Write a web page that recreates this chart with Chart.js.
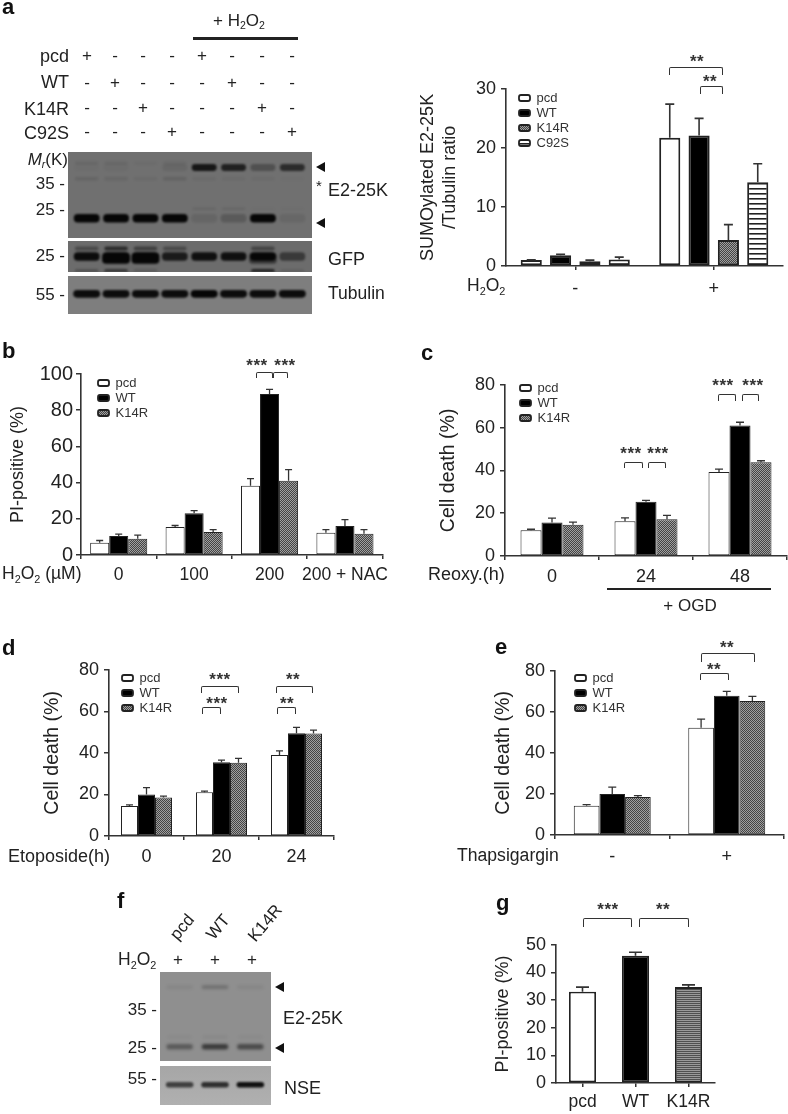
<!DOCTYPE html>
<html>
<head>
<meta charset="utf-8">
<script src="https://cdn.jsdelivr.net/npm/chart.js@4"></script>
<style>
  html, body { margin: 0; padding: 0; background: #fff; overflow: hidden; }
  #page { position: relative; width: 788px; height: 1114px; overflow: hidden; filter: blur(0.55px);
          font-family: "Liberation Sans", Arial, sans-serif; color: #222; }
  #page canvas { position: absolute; }
  .t { position: absolute; white-space: nowrap; line-height: 1; }
  .t sub { font-size: 0.62em; vertical-align: -0.3em; line-height: 0; }
  .blot { position: absolute; overflow: hidden; }
  .br { position: absolute; box-sizing: border-box; border: 1.3px solid #333; border-bottom: 0; border-radius: 2px 2px 0 0; }
  .rule { position: absolute; background: #222; }
  .tri { position: absolute; width: 0; height: 0; border-top: 5px solid transparent; border-bottom: 5px solid transparent; border-right: 9px solid #111; }
</style>
</head>
<body>
<div id="page"></div>
<script>
// panel a
const aGroups = ['-', '+'];
const aPcd = [1, 21.7], aPcdTop = [1.05, 27.4];
const aWt = [1.8, 22.1], aWtTop = [2.0, 25];
const aK14r = [0.8, 4.4], aK14rTop = [1.0, 7];
const aC92s = [1.1, 14.2], aC92sTop = [1.5, 17.3];
const aTicks = [0, 10, 20, 30];
// panel b
const bGroups = ['0', '100', '200', '200 + NAC'];
const bPcd = [6.7, 15.5, 38.3, 12.3], bPcdTop = [8, 16.3, 42.2, 14];
const bWt = [10.5, 23, 89, 16], bWtTop = [11.5, 24.5, 91.5, 19.5];
const bK14r = [9, 12.7, 41, 11.8], bK14rTop = [11, 14, 47.2, 14];
// panel c
const cGroups = ['0', '24', '48'];
const cPcd = [12, 16.2, 39.3], cPcdTop = [12.5, 17.8, 40.6];
const cWt = [15.7, 25.3, 61], cWtTop = [17.7, 26, 62.5];
const cK14r = [14.6, 17.2, 43.8], cK14rTop = [15.8, 19, 44.5];
// panel d
const dGroups = ['0', '20', '24'];
const dPcd = [14.5, 21, 39], dPcdTop = [15, 21.6, 41];
const dWt = [20, 35.5, 49.5], dWtTop = [23.3, 36.5, 52.3];
const dK14r = [18.5, 35.3, 49.3], dK14rTop = [19.2, 37.4, 51];
// panel e
const eGroups = ['-', '+'];
const ePcd = [14.3, 52.3], ePcdTop = [14.8, 56.5];
const eWt = [20, 67.8], eWtTop = [23.3, 70];
const eK14r = [18.5, 65.3], eK14rTop = [19.2, 67.5];
// panel g
const gGroups = ['pcd', 'WT', 'K14R'];
const gValues = [33, 46, 34.7], gTop = [34.7, 47.3, 35.5];
// blot band strengths per lane, 0 to 1
const aLanes = ['pcd', 'WT', 'K14R', 'C92S', 'pcd+', 'WT+', 'K14R+', 'C92S+'];
const aTopFaint = [0.07, 0.07, 0.03, 0.06, 0, 0, 0, 0];
const aUpper = [0.02, 0.03, 0, 0.08, 0.85, 0.75, 0.3, 0.65];
const aStar = [0.1, 0.09, 0.05, 0.12, 0.05, 0.04, 0.04, 0.02];
const a25Faint = [0, 0, 0, 0, 0.08, 0.08, 0.02, 0.02];
const aLower = [1, 1, 1, 1, 0.1, 0.2, 1, 0.08];
const gfpUpper = [0.35, 0.65, 0.45, 0.35, 0, 0, 0.4, 0];
const gfpMain = [0.95, 1, 1, 0.8, 0.9, 0.9, 1, 0.5];
const gfpThick = [0, 1, 1, 0, 0, 0, 0.5, 0];
const gfpLower = [0.25, 0.5, 0.15, 0, 0, 0, 0.7, 0.1];
const tubMain = [0.95, 0.95, 0.95, 0.95, 1, 0.95, 0.95, 0.95];
const fLanes = ['pcd', 'WT', 'K14R'];
const fUpper = [0.06, 0.22, 0.06];
const fFaint = [0.04, 0.06, 0.04];
const fLower = [0.38, 0.62, 0.5];
const nseMain = [0.65, 0.75, 0.95];
// + / - table above the first blot
const rowNames = ['pcd', 'WT', 'K14R', 'C92S'];
const rowSigns = ['+---+---', '-+---+--', '--+---+-', '---+---+'];

Chart.defaults.font.family = '"Liberation Sans", Arial, sans-serif';
Chart.defaults.color = '#222';
Chart.defaults.animation = false;
Chart.defaults.responsive = false;
Chart.defaults.events = [];

const page = document.getElementById('page');
const AXIS = '#333';

function pattern(size, paint) {
  const c = document.createElement('canvas');
  c.width = c.height = size;
  paint(c.getContext('2d'));
  return c.getContext('2d').createPattern(c, 'repeat');
}
const checker = pattern(2, x => {
  x.fillStyle = '#a0a0a0'; x.fillRect(0, 0, 2, 2);
  x.fillStyle = '#444'; x.fillRect(0, 0, 1, 1); x.fillRect(1, 1, 1, 1);
});
const stripes = pattern(5, x => {
  x.fillStyle = '#fff'; x.fillRect(0, 0, 5, 5);
  x.fillStyle = '#222'; x.fillRect(0, 0, 5, 1.6);
});
const fineLines = pattern(2, x => {
  x.fillStyle = '#9a9a9a'; x.fillRect(0, 0, 2, 2);
  x.fillStyle = '#505050'; x.fillRect(0, 0, 2, 1);
});

function newCanvas(box, parent) {
  const c = document.createElement('canvas');
  c.width = box.r - box.l;
  c.height = box.b - box.t;
  c.style.left = box.l + 'px';
  c.style.top = box.t + 'px';
  (parent || page).appendChild(c);
  return c;
}

// error bars go up from the bar top, through the chart's own scales
const whiskers = {
  id: 'whiskers',
  afterDatasetsDraw(chart, args, opts) {
    const ctx = chart.ctx, y = chart.scales.y;
    chart.data.datasets.forEach((ds, i) => {
      chart.getDatasetMeta(i).data.forEach((bar, j) => {
        const yTop = y.getPixelForValue(ds.tops[j]);
        ctx.save();
        ctx.strokeStyle = '#333';
        ctx.lineWidth = opts.width;
        ctx.beginPath();
        ctx.moveTo(bar.x, bar.y);
        ctx.lineTo(bar.x, yTop);
        ctx.moveTo(bar.x - opts.cap, yTop);
        ctx.lineTo(bar.x + opts.cap, yTop);
        ctx.stroke();
        ctx.restore();
      });
    });
  }
};

// puts the native legend where it sits in the figure
const legendSpot = {
  id: 'legendSpot',
  afterLayout(chart, args, opts) {
    if (!chart.legend || opts.x === undefined) return;
    chart.legend.left = opts.x - parseFloat(chart.canvas.style.left) - 2;
    chart.legend.right = chart.width;
    chart.legend.top = opts.y - parseFloat(chart.canvas.style.top) - 8.5;
  }
};

function barPanel(p) {
  const box = { l: p.canvasLeft, t: p.area.t - 14, r: Math.min(p.area.r + 8, 800), b: p.area.b + 36 };
  const canvas = newCanvas(box);
  const titleLine = p.titleSize * 1.25;
  new Chart(canvas, {
    type: 'bar',
    data: { labels: p.labels, datasets: p.datasets },
    plugins: [whiskers, legendSpot],
    options: {
      layout: { padding: { top: p.area.t - box.t, right: box.r - p.area.r, left: 0, bottom: 0 } },
      datasets: { bar: { categoryPercentage: p.catPct, barPercentage: p.barPct, borderWidth: p.border, borderColor: '#222', borderSkipped: false } },
      plugins: {
        whiskers: { width: p.whisker || 1.3, cap: p.cap },
        legendSpot: p.legend ? { x: p.legend.x, y: p.legend.y } : {},
        title: { display: false },
        tooltip: { enabled: false },
        legend: p.legend ? {
          display: true, position: 'chartArea', align: 'start', fullSize: false,
          labels: {
            boxWidth: 11, boxHeight: 6, padding: 2, useBorderRadius: true, borderRadius: 2,
            font: { size: 13 }, color: '#333',
            generateLabels(c) {
              const items = Chart.defaults.plugins.legend.labels.generateLabels(c);
              items.forEach(it => { it.lineWidth = 1.8; it.strokeStyle = '#222'; it.borderRadius = 2; });
              return items;
            }
          }
        } : { display: false }
      },
      scales: {
        x: {
          type: 'category', offset: true,
          afterFit(s) { s.height = box.b - p.area.b; },
          border: { color: AXIS, width: 1.6 },
          grid: { offset: p.tickBetween, drawOnChartArea: false, drawTicks: true, tickLength: 4, color: AXIS, lineWidth: 1.5 },
          ticks: { font: { size: p.xFont || 18 }, color: '#222', padding: p.xPad, maxRotation: 0, minRotation: 0, autoSkip: false }
        },
        y: {
          min: 0, max: p.max,
          afterFit(s) { s.width = p.area.l - box.l; },
          afterBuildTicks(s) { s.ticks = p.yTicks.map(v => ({ value: v })); },
          border: { color: AXIS, width: 1.6 },
          grid: { drawOnChartArea: false, drawTicks: true, tickLength: 5, color: AXIS, lineWidth: 1.5 },
          ticks: { font: { size: p.yFont || 18 }, color: '#222', padding: p.yPad === undefined ? 5 : p.yPad },
          title: {
            display: true, text: p.title, color: '#222',
            font: { size: p.titleSize, lineHeight: 1.25 },
            padding: { top: p.titleX - box.l - titleLine / 2, bottom: 0 }
          }
        }
      }
    }
  });
}

// western blot strip: each band row is a set of floating bars, one per lane, y runs 0 to 100 down the strip
function blot(box, background, lanes, bands, padL, padR, soft) {
  const wrap = document.createElement('div');
  wrap.className = 'blot';
  wrap.style.cssText = `left:${box.l}px;top:${box.t}px;width:${box.r - box.l}px;height:${box.b - box.t}px;background:${background}`;
  page.appendChild(wrap);
  const canvas = newCanvas({ l: 0, t: 0, r: box.r - box.l, b: box.b - box.t }, wrap);
  canvas.style.filter = `blur(${soft}px)`;
  new Chart(canvas, {
    type: 'bar',
    data: {
      labels: lanes,
      datasets: bands.map(b => ({
        data: b.v.map(() => [b.y - b.h / 2, b.y + b.h / 2]),
        backgroundColor: b.v.map(a => `rgba(6,6,6,${a})`),
        barPercentage: b.w, categoryPercentage: 1, grouped: false,
        borderRadius: 4, borderSkipped: false
      }))
    },
    options: {
      layout: { padding: { left: padL, right: padR, top: 0, bottom: 0 } },
      plugins: { legend: { display: false }, tooltip: { enabled: false } },
      scales: {
        x: { display: false },
        y: { display: false, min: 0, max: 100, reverse: true }
      }
    }
  });
}

function label(html, x, y, size, anchor, extra) {
  const el = document.createElement('div');
  el.className = 't';
  el.innerHTML = html;
  const shift = anchor === 'r' ? '-100%' : anchor === 'c' ? '-50%' : '0';
  el.style.cssText = `left:${x}px;top:${y}px;font-size:${size}px;transform:translate(${shift},-50%);` + (extra || '');
  page.appendChild(el);
  return el;
}

function rule(x1, x2, y, h) {
  const el = document.createElement('div');
  el.className = 'rule';
  el.style.cssText = `left:${x1}px;top:${y}px;width:${x2 - x1}px;height:${h}px`;
  page.appendChild(el);
}

function bracket(x1, x2, top, drop) {
  const el = document.createElement('div');
  el.className = 'br';
  el.style.cssText = `left:${x1}px;top:${top}px;width:${x2 - x1}px;height:${drop}px`;
  page.appendChild(el);
}

function stars(text, x, y) {
  label(text, x, y + 2, 17, 'c', 'font-weight:bold;color:#333;letter-spacing:0.5px;');
}

function arrow(x, y) {
  const el = document.createElement('div');
  el.className = 'tri';
  el.style.cssText = `left:${x}px;top:${y - 5}px`;
  page.appendChild(el);
}

const series = (name, values, tops, fill) => ({ label: name, data: values, tops: tops, backgroundColor: fill });

barPanel({
  area: { l: 506, t: 87, r: 783, b: 266 }, canvasLeft: 412, titleX: 428, titleSize: 18,
  title: ['SUMOylated E2-25K', '/Tubulin ratio'],
  labels: aGroups, max: 30, yTicks: aTicks, catPct: 0.847, barPct: 0.72, border: 2, cap: 4.5, whisker: 1.6,
  tickBetween: false, xPad: 8,
  legend: { x: 519, y: 98 },
  datasets: [
    series('pcd', aPcd, aPcdTop, '#fff'),
    series('WT', aWt, aWtTop, '#000'),
    series('K14R', aK14r, aK14rTop, checker),
    series('C92S', aC92s, aC92sTop, stripes)
  ]
});

barPanel({
  area: { l: 81, t: 373, r: 387, b: 555 }, canvasLeft: 0, titleX: 18, titleSize: 18,
  title: 'PI-positive (%)', yFont: 20, xFont: 17.5, yPad: 3,
  labels: bGroups, max: 100, yTicks: [0, 20, 40, 60, 80, 100], catPct: 0.757, barPct: 1, border: 1, cap: 3.5,
  tickBetween: true, xPad: 6,
  legend: { x: 98, y: 383 },
  datasets: [series('pcd', bPcd, bPcdTop, '#fff'), series('WT', bWt, bWtTop, '#000'), series('K14R', bK14r, bK14rTop, checker)]
});

barPanel({
  area: { l: 505, t: 383, r: 787, b: 556 }, canvasLeft: 432, titleX: 449, titleSize: 19.5,
  title: 'Cell death (%)',
  labels: cGroups, max: 80, yTicks: [0, 20, 40, 60, 80], catPct: 0.67, barPct: 1, border: 1, cap: 4,
  tickBetween: true, xPad: 6,
  legend: { x: 520, y: 388 },
  datasets: [series('pcd', cPcd, cPcdTop, '#fff'), series('WT', cWt, cWtTop, '#000'), series('K14R', cK14r, cK14rTop, checker)]
});

barPanel({
  area: { l: 109, t: 668, r: 334, b: 836 }, canvasLeft: 36, titleX: 53, titleSize: 19.5,
  title: 'Cell death (%)',
  labels: dGroups, max: 80, yTicks: [0, 20, 40, 60, 80], catPct: 0.68, barPct: 1, border: 1, cap: 3.5,
  tickBetween: true, xPad: 6,
  legend: { x: 122, y: 678 },
  datasets: [series('pcd', dPcd, dPcdTop, '#fff'), series('WT', dWt, dWtTop, '#000'), series('K14R', dK14r, dK14rTop, checker)]
});

barPanel({
  area: { l: 555, t: 669, r: 784, b: 835 }, canvasLeft: 487, titleX: 504, titleSize: 19.5,
  title: 'Cell death (%)',
  labels: eGroups, max: 80, yTicks: [0, 20, 40, 60, 80], catPct: 0.672, barPct: 1, border: 1, cap: 4,
  tickBetween: true, xPad: 7,
  legend: { x: 575, y: 678 },
  datasets: [series('pcd', ePcd, ePcdTop, '#fff'), series('WT', eWt, eWtTop, '#000'), series('K14R', eK14r, eK14rTop, checker)]
});

barPanel({
  area: { l: 556, t: 943, r: 715, b: 1083 }, canvasLeft: 486, titleX: 503, titleSize: 18,
  title: 'PI-positive (%)', xFont: 17.5,
  labels: gGroups, max: 50, yTicks: [0, 10, 20, 30, 40, 50], catPct: 0.51, barPct: 1, border: 1.8, cap: 6.5, whisker: 1.6,
  tickBetween: false, xPad: 5,
  datasets: [{ label: 'PI', data: gValues, tops: gTop, backgroundColor: ['#fff', '#000', fineLines] }]
});

// blots
blot({ l: 68, t: 152, r: 312, b: 238 }, '#707070', aLanes, [
  { v: aTopFaint, y: 13, h: 4, w: 0.8 },
  { v: aUpper, y: 18, h: 8, w: 0.85 },
  { v: aStar, y: 31, h: 4, w: 0.8 },
  { v: a25Faint, y: 66, h: 3, w: 0.8 },
  { v: aLower, y: 77, h: 10, w: 0.88 }
], 4, 5, 1.2);
blot({ l: 68, t: 241, r: 312, b: 272 }, '#6c6c6c', aLanes, [
  { v: gfpUpper, y: 24, h: 13, w: 0.8 },
  { v: gfpMain, y: 50, h: 28, w: 0.88 },
  { v: gfpThick, y: 55, h: 36, w: 0.95 },
  { v: gfpLower, y: 96, h: 12, w: 0.8 }
], 4, 5, 1.2);
blot({ l: 68, t: 276, r: 312, b: 314 }, '#7e7e7e', aLanes, [
  { v: tubMain, y: 47, h: 20, w: 0.92 }
], 4, 5, 1.1);
blot({ l: 160, t: 972, r: 271, b: 1061 }, '#8f8f8f', fLanes, [
  { v: fUpper, y: 17, h: 4, w: 0.75 },
  { v: fFaint, y: 73, h: 3, w: 0.7 },
  { v: fLower, y: 84, h: 6, w: 0.75 }
], 2, 3, 1.4);
blot({ l: 160, t: 1066, r: 271, b: 1105 }, 'linear-gradient(#a6a6a6,#b0b0b0)', fLanes, [
  { v: nseMain, y: 48, h: 14, w: 0.78 }
], 2, 3, 1.1);

// panel letters
[['a', 2, 7], ['b', 2, 351], ['c', 421, 353], ['d', 2, 648], ['e', 495, 647], ['f', 117, 901], ['g', 496, 903]].forEach(m => {
  label(m[0], m[1], m[2], 22, 'l', 'font-weight:bold;color:#111;');
});

// panel a text
label('+ H<sub>2</sub>O<sub>2</sub>', 213, 20, 17, 'l');
rule(193, 298, 37, 2.5);
const rowLabelY = [56, 82, 109, 133];
const signY = [55, 82, 107, 131];
const signX = [87, 115, 143, 172, 202, 232, 262, 292];
rowNames.forEach((name, i) => {
  label(name, 69, rowLabelY[i], 18, 'r');
  rowSigns[i].split('').forEach((s, j) => label(s, signX[j], signY[i], 17, 'c'));
});
label('<i>M</i><sub><i>r</i></sub>(K)', 68, 159, 17, 'r');
label('35 -', 65, 183, 17, 'r');
label('25 -', 65, 209, 17, 'r');
label('25 -', 65, 255, 17, 'r');
label('55 -', 65, 294, 17, 'r');
arrow(316, 167);
arrow(316, 223);
label('*', 319, 185, 15, 'c');
label('E2-25K', 328, 190, 18, 'l');
label('GFP', 328, 259, 18, 'l');
label('Tubulin', 328, 294, 17.5, 'l');
label('H<sub>2</sub>O<sub>2</sub>', 467, 286, 17.5, 'l');
bracket(669, 723, 67, 8); stars('**', 697, 59);
bracket(700, 723, 86, 8); stars('**', 710, 79);

// panel b text
label('H<sub>2</sub>O<sub>2</sub> (µM)', 2, 574, 17.5, 'l');
bracket(256, 273, 372, 6); bracket(273, 288, 372, 6);
stars('***', 257, 363); stars('***', 285, 363);

// panel c text
label('Reoxy.(h)', 428, 574, 18, 'l');
rule(607, 771, 588, 2);
label('+ OGD', 690, 605, 17, 'c');
bracket(624, 643, 462, 6); bracket(648, 666, 462, 6);
stars('***', 631, 451); stars('***', 658, 451);
bracket(718, 736, 394, 7); bracket(742, 759, 394, 7);
stars('***', 723, 383); stars('***', 753, 383);

// panel d text
label('Etoposide(h)', 8, 856, 18, 'l');
bracket(201, 239, 686, 7); stars('***', 220, 677);
bracket(202, 221, 707, 7); stars('***', 217, 701);
bracket(276, 313, 686, 7); stars('**', 293, 677);
bracket(277, 296, 707, 7); stars('**', 287, 701);

// panel e text
label('Thapsigargin', 457, 856, 17.6, 'l');
bracket(701, 755, 653, 9); stars('**', 727, 645);
bracket(700, 729, 673, 7); stars('**', 714, 667);

// panel f text
label('pcd', 182, 927, 17, 'c', 'transform:translate(-50%,-50%) rotate(-50deg);');
label('WT', 218, 927, 17, 'c', 'transform:translate(-50%,-50%) rotate(-50deg);');
label('K14R', 265, 923, 17, 'c', 'transform:translate(-50%,-50%) rotate(-50deg);');
label('H<sub>2</sub>O<sub>2</sub>', 118, 960, 17.5, 'l');
[178, 215, 252].forEach(x => label('+', x, 959, 17, 'c'));
label('35 -', 157, 1009, 17, 'r');
label('25 -', 157, 1047, 17, 'r');
label('55 -', 157, 1078, 17, 'r');
arrow(275, 987);
arrow(275, 1048);
label('E2-25K', 283, 1018, 18, 'l');
label('NSE', 284, 1088, 18, 'l');

// panel g text
bracket(583, 632, 918, 9); stars('***', 608, 907);
bracket(639, 689, 918, 9); stars('**', 663, 907);
</script>
</body>
</html>
